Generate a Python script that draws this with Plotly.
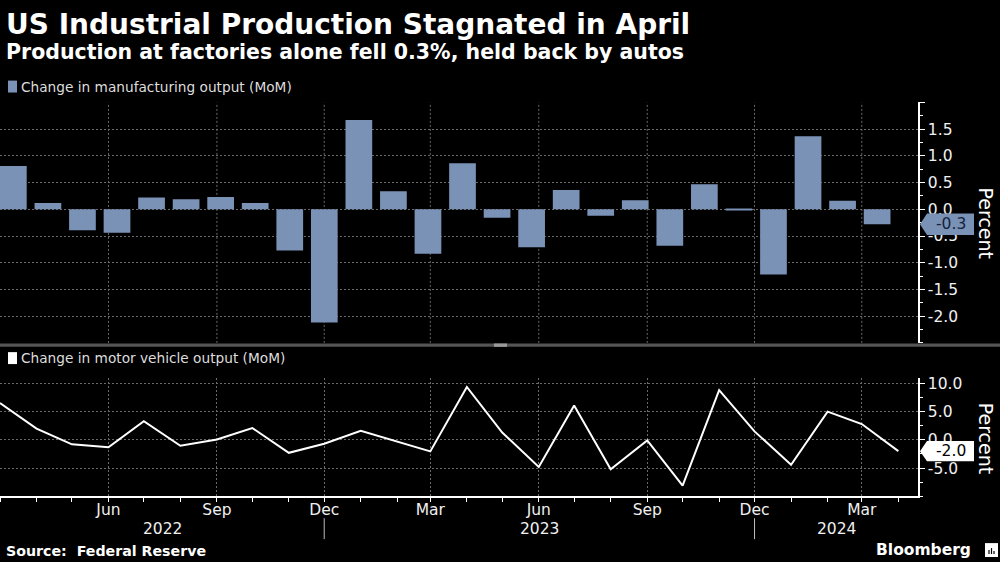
import plotly.graph_objects as go
import pandas as pd

# ---------------- data ----------------
months = ["2022-03-01", "2022-04-01", "2022-05-01", "2022-06-01", "2022-07-01", "2022-08-01",
          "2022-09-01", "2022-10-01", "2022-11-01", "2022-12-01", "2023-01-01", "2023-02-01",
          "2023-03-01", "2023-04-01", "2023-05-01", "2023-06-01", "2023-07-01", "2023-08-01",
          "2023-09-01", "2023-10-01", "2023-11-01", "2023-12-01", "2024-01-01", "2024-02-01",
          "2024-03-01", "2024-04-01"]
manufacturing = [0.81, 0.12, -0.39, -0.44, 0.22, 0.19, 0.23, 0.12, -0.77, -2.12, 1.67, 0.34,
                 -0.83, 0.86, -0.16, -0.71, 0.36, -0.12, 0.17, -0.68, 0.47, -0.02, -1.22, 1.37,
                 0.16, -0.28]
motor_vehicles = [6.5, 2.0, -0.8, -1.3, 3.3, -1.05, 0.05, 2.1, -2.3, -0.7, 1.6, -0.25,
                  -2.05, 9.35, 1.3, -4.8, 6.1, -5.2, -0.1, -8.1, 8.8, 1.5, -4.4, 5.0,
                  2.8, -2.0]
quarter_ticks = ["2022-06-01", "2022-09-01", "2022-12-01", "2023-03-01", "2023-06-01",
                 "2023-09-01", "2023-12-01", "2024-03-01"]
quarter_labels = ["Jun", "Sep", "Dec", "Mar", "Jun", "Sep", "Dec", "Mar"]
year_breaks = ["2022-12-01", "2023-12-01"]
year_labels = ["2022", "2023", "2024"]
mfg_ticks = [-2.0, -1.5, -1.0, -0.5, 0.0, 0.5, 1.0, 1.5, 2.0]
veh_ticks = [-5.0, 0.0, 5.0, 10.0]

# ---------------- style ----------------
W, H = 1000, 562
BG = "#000000"
BAR = "#7a92b6"
GRID = "#6a6a6a"
TXT = "#f0f0f0"
FONT = "DejaVu Sans"
X_START, X_END = "2022-03-01", "2024-04-17 16:00"


def px(v):
    return v / W


def py(v):
    return 1 - v / H


fig = go.Figure()

fig.add_trace(go.Bar(x=[m[:7] for m in months], y=manufacturing, marker=dict(color=BAR, line=dict(width=0)),
                     xaxis="x2", yaxis="y2", showlegend=False, hoverinfo="skip"))
fig.add_trace(go.Scatter(x=months, y=motor_vehicles, mode="lines",
                         line=dict(color="#ffffff", width=2), xaxis="x", yaxis="y",
                         showlegend=False, hoverinfo="skip"))

tick_font = dict(family=FONT, size=15.5, color=TXT)

fig.update_layout(
    width=W, height=H,
    margin=dict(l=0, r=0, t=0, b=0),
    paper_bgcolor=BG, plot_bgcolor=BG,
    bargap=0.227,
    showlegend=False,
    xaxis=dict(domain=[0, px(918)], anchor="y", type="date", range=[X_START, X_END],
               tickvals=quarter_ticks, ticktext=quarter_labels, tickfont=tick_font,
               ticks="outside", ticklen=4, tickcolor="#ffffff", ticklabelstandoff=-6,
               minor=dict(dtick="M1", tick0="2022-03-01", ticks="outside", ticklen=4,
                          tickcolor="#ffffff", showgrid=False),
               showgrid=True, gridcolor=GRID, griddash="2px,2px", gridwidth=1,
               showline=True, linecolor="#ffffff", linewidth=1.5, zeroline=False),
    yaxis=dict(domain=[py(496), py(376.7)], anchor="x", side="right", range=[-10, 11],
               tickvals=veh_ticks, ticktext=[f"{v:.1f}" for v in veh_ticks], tickfont=tick_font,
               ticks="outside", ticklen=5, tickcolor="#ffffff",
               minor=dict(dtick=2.5, tick0=0, ticks="outside", ticklen=3, tickcolor="#ffffff",
                          showgrid=False),
               showgrid=True, gridcolor=GRID, griddash="2px,2px", gridwidth=1,
               showline=True, linecolor="#ffffff", linewidth=1.5, zeroline=False),
    xaxis2=dict(domain=[0, px(918)], anchor="y2", type="category", range=[-0.3864, 26.183],
                showticklabels=False, ticks="", showgrid=False, showline=False, zeroline=False),
    yaxis2=dict(domain=[py(341.7), py(100)], anchor="x2", side="right", range=[-2.5, 2.0],
                tickvals=mfg_ticks,
                ticktext=["" if v >= 2.0 else f"{v:.1f}" for v in mfg_ticks], tickfont=tick_font,
                ticks="outside", ticklen=5, tickcolor="#ffffff",
                minor=dict(dtick=0.25, tick0=0, ticks="outside", ticklen=3, tickcolor="#ffffff",
                           showgrid=False),
                showgrid=True, gridcolor=GRID, griddash="2px,2px", gridwidth=1,
                showline=True, linecolor="#ffffff", linewidth=1.5, zeroline=False),
)

shapes = []
# vertical grid lines of the top panel, at the same dates as the bottom axis
for d in quarter_ticks:
    shapes.append(dict(type="line", xref="x", yref="y2", x0=d, x1=d, y0=-2.5, y1=2.0,
                       line=dict(color=GRID, width=1, dash="2px,2px"), layer="below"))
# year separators under the date axis
for d in year_breaks:
    shapes.append(dict(type="line", xref="x", yref="paper", x0=d, x1=d, y0=py(539), y1=py(518),
                       line=dict(color="#bbbbbb", width=1)))
# panel separator bar
shapes.append(dict(type="rect", xref="paper", yref="paper", x0=0, x1=1, y0=py(345.7), y1=py(342.3),
                   fillcolor="#555555", line=dict(width=0)))
shapes.append(dict(type="rect", xref="paper", yref="paper", x0=px(494), x1=px(507), y0=py(345.7),
                   y1=py(342.3), fillcolor="#999999", line=dict(width=0)))
# legend squares
shapes.append(dict(type="rect", xref="paper", yref="paper", x0=px(8), x1=px(17), y0=py(90), y1=py(78),
                   fillcolor=BAR, line=dict(width=0)))
shapes.append(dict(type="rect", xref="paper", yref="paper", x0=px(8), x1=px(17), y0=py(363), y1=py(351),
                   fillcolor="#ffffff", line=dict(width=0)))


def tag_path(v, half):
    tip, body, right = px(920), px(927), px(974)
    return (f"M {tip},{v} L {body},{v + half} L {right},{v + half} "
            f"L {right},{v - half} L {body},{v - half} Z")


# last-value tags
m_last = manufacturing[-1]
v_last = motor_vehicles[-1]
shapes.append(dict(type="path", xref="paper", yref="y2", path=tag_path(m_last, 0.2),
                   fillcolor=BAR, line=dict(width=0)))
shapes.append(dict(type="path", xref="paper", yref="y", path=tag_path(v_last, 1.8),
                   fillcolor="#ffffff", line=dict(width=0)))
# Bloomberg logo block
shapes.append(dict(type="rect", xref="paper", yref="paper", x0=px(985), x1=px(998), y0=py(557), y1=py(543),
                   fillcolor="#ffffff", line=dict(width=0)))
for bx, top in [(989, 550), (991.5, 548), (994, 551)]:
    shapes.append(dict(type="line", xref="paper", yref="paper", x0=px(bx), x1=px(bx), y0=py(554),
                       y1=py(top), line=dict(color="#000000", width=1.2)))
fig.update_layout(shapes=shapes)

ann = []
ann.append(dict(text="US Industrial Production Stagnated in April", x=px(4), y=py(22),
                xref="paper", yref="paper", xanchor="left", yanchor="middle", showarrow=False,
                font=dict(family=FONT, size=28, color="#ffffff", weight="bold")))
ann.append(dict(text="Production at factories alone fell 0.3%, held back by autos", x=px(4), y=py(49),
                xref="paper", yref="paper", xanchor="left", yanchor="middle", showarrow=False,
                font=dict(family=FONT, size=20.5, color="#ffffff", weight="bold")))
ann.append(dict(text="Change in manufacturing output (MoM)", x=px(19), y=py(84),
                xref="paper", yref="paper", xanchor="left", yanchor="middle", showarrow=False,
                font=dict(family=FONT, size=13.7, color="#dddddd")))
ann.append(dict(text="Change in motor vehicle output (MoM)", x=px(19), y=py(357),
                xref="paper", yref="paper", xanchor="left", yanchor="middle", showarrow=False,
                font=dict(family=FONT, size=13.7, color="#dddddd")))
for yc in (221.7, 438):
    ann.append(dict(text="Percent", x=px(986), y=py(yc), xref="paper", yref="paper",
                    xanchor="center", yanchor="middle", showarrow=False, textangle=90,
                    font=dict(family=FONT, size=19, color="#ffffff")))
ann.append(dict(text=f"{m_last:.1f}", x=px(950.5), y=m_last, xref="paper", yref="y2",
                xanchor="center", yanchor="middle", showarrow=False,
                font=dict(family=FONT, size=15.5, color="#14223c")))
ann.append(dict(text=f"{v_last:.1f}", x=px(950.5), y=v_last, xref="paper", yref="y",
                xanchor="center", yanchor="middle", showarrow=False,
                font=dict(family=FONT, size=15.5, color="#000000")))
# year labels centred between separators
bounds = [pd.Timestamp(X_START)] + [pd.Timestamp(d) for d in year_breaks] + [pd.Timestamp(X_END)]
for i, lab in enumerate(year_labels):
    mid = bounds[i] + (bounds[i + 1] - bounds[i]) / 2
    ann.append(dict(text=lab, x=mid.strftime("%Y-%m-%d %H:%M"), y=py(529), xref="x", yref="paper",
                    xanchor="center", yanchor="middle", showarrow=False, font=tick_font))
ann.append(dict(text="Source:  Federal Reserve", x=px(4), y=py(551), xref="paper", yref="paper",
                xanchor="left", yanchor="middle", showarrow=False,
                font=dict(family=FONT, size=14.2, color="#ffffff", weight="bold")))
ann.append(dict(text="Bloomberg", x=px(973), y=py(550), xref="paper", yref="paper",
                xanchor="right", yanchor="middle", showarrow=False,
                font=dict(family=FONT, size=15.5, color="#ffffff", weight="bold")))
fig.update_layout(annotations=ann)

fig.write_html("out.html", config={"displayModeBar": False},
               post_script="document.body.style.margin='0';document.body.style.overflow='hidden';")
